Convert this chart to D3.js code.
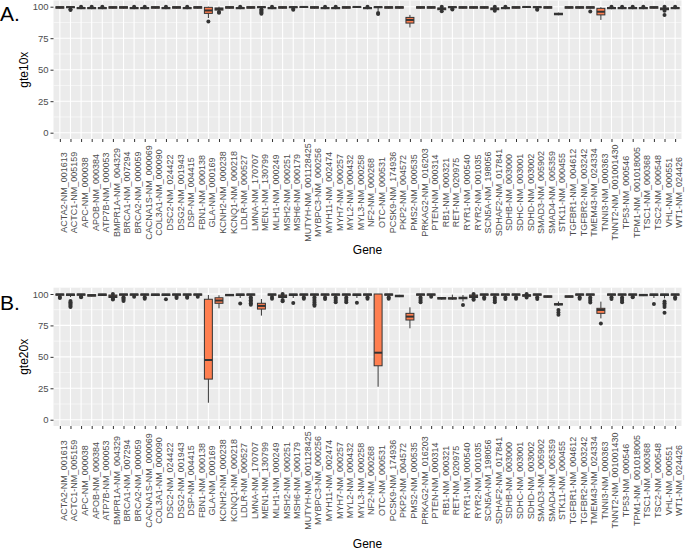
<!DOCTYPE html>
<html><head><meta charset="utf-8">
<script src="https://cdn.jsdelivr.net/npm/d3@7"></script>
<style>
body{margin:0;background:#fff}
svg{display:block}
text{font-family:"Liberation Sans",Arial,Helvetica,sans-serif}
</style>
</head><body>
<svg id="chart" width="685" height="551"></svg>
<script>
const genes = ["ACTA2-NM_001613","ACTC1-NM_005159","APC-NM_000038","APOB-NM_000384","ATP7B-NM_000053","BMPR1A-NM_004329","BRCA1-NM_007294","BRCA2-NM_000059","CACNA1S-NM_000069","COL3A1-NM_000090",
"DSC2-NM_024422","DSG2-NM_001943","DSP-NM_004415","FBN1-NM_000138","GLA-NM_000169","KCNH2-NM_000238","KCNQ1-NM_000218","LDLR-NM_000527","LMNA-NM_170707","MEN1-NM_130799",
"MLH1-NM_000249","MSH2-NM_000251","MSH6-NM_000179","MUTYH-NM_001128425","MYBPC3-NM_000256","MYH11-NM_002474","MYH7-NM_000257","MYL2-NM_000432","MYL3-NM_000258","NF2-NM_000268",
"OTC-NM_000531","PCSK9-NM_174936","PKP2-NM_004572","PMS2-NM_000535","PRKAG2-NM_016203","PTEN-NM_000314","RB1-NM_000321","RET-NM_020975","RYR1-NM_000540","RYR2-NM_001035",
"SCN5A-NM_198056","SDHAF2-NM_017841","SDHB-NM_003000","SDHC-NM_003001","SDHD-NM_003002","SMAD3-NM_005902","SMAD4-NM_005359","STK11-NM_000455","TGFBR1-NM_004612","TGFBR2-NM_003242",
"TMEM43-NM_024334","TNNI3-NM_000363","TNNT2-NM_001001430","TP53-NM_000546","TPM1-NM_001018005","TSC1-NM_000368","TSC2-NM_000548","VHL-NM_000551","WT1-NM_024426"];

const yTicks = [0, 25, 50, 75, 100];
const yMinor = [12.5, 37.5, 62.5, 87.5];

// Panel A: gte10x box statistics
const a_q1 = [98.8,99.2,98.4,98.4,98.4,98.8,98.8,98.4,98.4,98.8, 98.4,98.8,98.4,98.8,94.7,97.3,98.8,98.4,98.8,99.2, 98.4,98.8,99.2,99.4,98.8,98.4,98.4,98.8,99.4,98.4, 99.2,98.8,98.8,87.0,98.8,98.8,97.6,99.2,98.8,98.8, 98.8,97.6,98.4,98.8,99.4,99.2,98.8,93.6,98.8,98.8, 98.8,93.5,98.4,98.4,98.4,98.4,98.8,97.6,98.4];
const a_med = [99.5,99.7,99.0,99.0,99.0,99.5,99.5,99.0,99.0,99.5, 99.0,99.5,99.0,99.5,97.0,98.2,99.5,99.0,99.5,99.7, 99.0,99.5,99.7,99.8,99.5,99.0,99.0,99.5,99.8,99.0, 99.7,99.5,99.5,89.5,99.5,99.5,98.3,99.7,99.5,99.5, 99.5,98.3,99.0,99.5,99.8,99.7,99.5,94.2,99.5,99.5, 99.5,96.0,99.0,99.0,99.0,99.0,99.5,98.3,99.0];
const a_q3 = [100,100,99.4,99.4,99.4,100,100,99.4,99.4,100, 99.4,100,99.4,100,99.5,99.0,100,99.4,100,100, 99.4,100,100,100,100,99.4,99.4,100,100,99.4, 100,100,100,91.5,100,100,99.0,100,100,100, 100,99.0,99.4,100,100,100,100,94.8,100,100, 100,98.7,99.4,99.4,99.4,99.4,100,99.0,99.4];
const a_lo = [98.5,98.6,98.0,98.0,98.0,98.5,98.5,98.0,98.0,98.5, 98.0,98.5,98.0,98.5,91.0,96.5,98.5,98.0,98.5,98.6, 98.0,98.5,98.6,99.2,98.5,98.0,98.0,98.5,99.2,98.0, 96.5,98.5,98.5,83.5,98.5,98.5,97.2,98.6,98.5,98.5, 98.5,97.2,98.0,98.5,99.2,98.6,98.5,93.2,98.5,98.5, 98.5,89.5,98.0,98.0,98.0,98.0,98.5,97.2,98.0];
const a_hi = [100,100,99.8,99.8,99.8,100,100,99.8,99.8,100, 99.8,100,99.8,100,100,100,100,99.8,100,100, 99.8,100,100,100,100,99.8,99.8,100,100,99.8, 100,100,100,93.5,100,100,99.6,100,100,100, 100,99.6,99.8,100,100,100,100,95.3,100,100, 100,99.6,99.8,99.8,99.8,99.8,100,99.6,99.8];
const a_out = [[],[98,97.3],[100],[100],[100],[],[],[100],[100],[],
 [100],[],[100],[],[88.2],[95.8,95.2],[],[100],[],[98,97,96,95.2,94.5],
 [100],[],[98.3,97.5],[],[],[100],[100],[],[],[100],
 [95,94.3],[],[],[],[],[],[100,96.3],[98.4,97.8],[],[],
 [],[100,96.8],[100],[],[],[98.2,97.6],[],[],[],[],
 [96.2],[],[100],[100],[100],[100],[],[100,96.8,93.5],[100]];

// Panel B: gte20x box statistics
const b_q1 = [99.0,98.8,99.0,98.3,98.8,97.2,99.0,99.0,99.0,98.8, 98.8,99.0,99.0,99.0,32.3,92.6,98.6,98.8,99.0,88.0, 99.0,97.2,98.8,99.0,99.0,99.0,99.0,99.0,98.8,99.0, 42.9,99.0,97.8,79.3,99.0,99.0,96.0,96.0,96.2,97.2, 99.0,99.0,99.0,99.0,98.2,99.0,97.4,91.3,97.4,99.0, 99.0,84.6,99.0,99.0,99.0,98.6,98.8,98.8,99.0];
const b_med = [99.6,99.5,99.6,98.9,99.5,98.2,99.6,99.6,99.6,99.5, 99.5,99.6,99.6,99.6,47.5,94.8,99.2,99.5,99.6,90.5, 99.6,98.2,99.5,99.6,99.6,99.6,99.6,99.6,99.5,99.6, 53.3,99.6,98.4,82.0,99.6,99.6,96.6,96.5,96.8,98.2, 99.6,99.6,99.6,99.6,98.8,99.6,98.0,91.8,98.0,99.6, 99.6,87.3,99.6,99.6,99.6,99.2,99.5,99.5,99.6];
const b_q3 = [100,100,100,99.5,100,99.2,100,100,100,100, 100,100,100,100,95.8,97.0,99.7,100,100,92.6, 100,99.2,100,100,100,100,100,100,100,100, 100,100,99.0,84.6,100,100,97.2,97.0,97.4,99.2, 100,100,100,100,99.4,100,98.5,92.3,98.5,100, 100,88.6,100,100,100,99.7,100,100,100];
const b_lo = [98.2,97.5,98.2,98.0,98.5,96.6,98.2,98.2,98.2,98.5, 98.5,98.2,98.2,98.2,13.5,88.6,98.3,96.8,98.2,82.8, 98.2,96.6,96.8,98.2,98.2,98.2,98.2,98.2,96.8,98.2, 26.2,98.2,97.5,72.7,98.2,98.2,95.6,95.5,94.0,96.6, 98.2,98.2,98.2,98.2,97.8,98.2,97.1,90.5,97.1,98.2, 98.2,80.6,98.2,98.2,98.2,98.3,96.8,96.5,98.2];
const b_hi = [100,100,100,99.8,100,100,100,100,100,100, 100,100,100,100,99.2,99.0,100,100,100,96.0, 100,100,100,100,100,100,100,100,100,100, 100,100,99.3,89.4,100,100,97.6,99.5,99.2,100, 100,100,100,100,100,100,98.8,94.0,98.8,100, 100,93.9,100,100,100,100,100,100,100];
const b_out = [[97.6,96.8],[94.5,93.5,92.5,91.5,90.5,89.6],[97.9,97.4],[],[],[100,96.2,95.6],[97.5,96.5,95.5,94.5],[97.9],[97.5,96.3],[],
 [95.8],[97.8,96.8],[97.9,97],[97.9],[],[],[],[92.5],[97.5,96.3,95,93.8,92.6,91.4],[],
 [97.6,96.3],[100,95.2,94.2],[92.8],[97.5,96.2],[97.5,96,94.6,93.2,91.8,90.6],[97.3,96],[97.3,96,94.7,93.4],[97.3,96,94.7,93.4],[93],[97.5,96.2],
 [],[97.5,96.2],[],[],[97.3,96,94.7,93.4],[97.9],[],[],[91.3],[100,96,95.4],
 [97.5,96.3],[97.3,96,94.7,93.4],[97.3,96],[97.5,96.3],[100,97.2],[97.5,96.1],[],[87.2,85.2,83.5],[],[97.5,96.3],
 [97.3,96,94.6,93.3],[76.6],[97.5,96],[97.3,96,94.7,93.4],[97.9,97.4],[],[92],[94,92.6,91.2,89.6,85],[97.5,96.3]];

const svg = d3.select("#chart");
const PANEL_LEFT = 53.5, PANEL_RIGHT = 681.5;
const FILL = "#FF7F50", INK = "#333333";

function drawPanel(cfg) {
  const x = d3.scalePoint().domain(genes).range([PANEL_LEFT, PANEL_RIGHT]).padding(0.6);
  const y = d3.scaleLinear().domain([-5, 105]).range([cfg.bottom, cfg.top]);
  const g = svg.append("g");
  const boxW = x.step() * 0.75;

  g.append("rect").attr("x", PANEL_LEFT).attr("y", cfg.top)
    .attr("width", PANEL_RIGHT - PANEL_LEFT).attr("height", cfg.bottom - cfg.top)
    .attr("fill", "#EBEBEB");

  g.selectAll(".minor").data(yMinor).join("line")
    .attr("x1", PANEL_LEFT).attr("x2", PANEL_RIGHT)
    .attr("y1", d => y(d)).attr("y2", d => y(d))
    .attr("stroke", "#fff").attr("stroke-width", 0.55);
  g.selectAll(".major").data(yTicks).join("line")
    .attr("x1", PANEL_LEFT).attr("x2", PANEL_RIGHT)
    .attr("y1", d => y(d)).attr("y2", d => y(d))
    .attr("stroke", "#fff").attr("stroke-width", 1.1);
  g.selectAll(".vgrid").data(genes).join("line")
    .attr("x1", d => x(d)).attr("x2", d => x(d))
    .attr("y1", cfg.top).attr("y2", cfg.bottom)
    .attr("stroke", "#fff").attr("stroke-width", 1.1);

  // axes
  const ya = g.append("g").attr("transform", `translate(${PANEL_LEFT},0)`)
    .call(d3.axisLeft(y).tickValues(yTicks).tickSize(3).tickPadding(2));
  ya.select(".domain").remove();
  ya.selectAll("line").attr("stroke", INK);
  ya.selectAll("text").attr("fill", "#4D4D4D").style("font-size", "9.5px")
    .style("font-family", '"Liberation Sans",Arial,sans-serif');

  const xa = g.append("g").attr("transform", `translate(0,${cfg.bottom})`)
    .call(d3.axisBottom(x).tickSize(3));
  xa.select(".domain").remove();
  xa.selectAll("line").attr("stroke", INK);
  xa.selectAll("text").attr("fill", "#4D4D4D").style("font-size", "9px")
    .style("font-family", '"Liberation Sans",Arial,sans-serif')
    .attr("text-anchor", "middle")
    .attr("x", 0).attr("y", 0)
    .attr("dy", "0.72em")
    .attr("transform", `translate(0,${cfg.labelOffset}) rotate(-90)`);

  // boxplots
  const rows = genes.map((gname, i) => ({
    gname, q1: cfg.q1[i], med: cfg.med[i], q3: cfg.q3[i], lo: cfg.lo[i], hi: cfg.hi[i], out: cfg.out[i]
  }));
  const bx = g.append("g");
  bx.selectAll(".wlo").data(rows).join("line")
    .attr("x1", d => x(d.gname)).attr("x2", d => x(d.gname))
    .attr("y1", d => y(d.lo)).attr("y2", d => y(d.q1))
    .attr("stroke", INK).attr("stroke-width", 1);
  bx.selectAll(".whi").data(rows).join("line")
    .attr("x1", d => x(d.gname)).attr("x2", d => x(d.gname))
    .attr("y1", d => y(d.hi)).attr("y2", d => y(d.q3))
    .attr("stroke", INK).attr("stroke-width", 1);
  bx.selectAll(".box").data(rows).join("rect")
    .attr("x", d => x(d.gname) - boxW / 2).attr("width", boxW)
    .attr("y", d => y(d.q3)).attr("height", d => Math.max(0.01, y(d.q1) - y(d.q3)))
    .attr("fill", FILL).attr("stroke", INK).attr("stroke-width", 1);
  bx.selectAll(".med").data(rows).join("line")
    .attr("x1", d => x(d.gname) - boxW / 2).attr("x2", d => x(d.gname) + boxW / 2)
    .attr("y1", d => y(d.med)).attr("y2", d => y(d.med))
    .attr("stroke", INK).attr("stroke-width", 2);
  const pts = rows.flatMap(d => d.out.map(v => ({ gname: d.gname, v })));
  bx.selectAll(".out").data(pts).join("circle")
    .attr("cx", d => x(d.gname)).attr("cy", d => y(d.v)).attr("r", 2)
    .attr("fill", INK);

  // titles
  svg.append("text").attr("transform", `translate(28,${(cfg.top + cfg.bottom) / 2}) rotate(-90)`)
    .attr("text-anchor", "middle").style("font-size", "12px").attr("fill", "#000")
    .text(cfg.ylab);
  svg.append("text").attr("x", (PANEL_LEFT + PANEL_RIGHT) / 2).attr("y", cfg.titleY)
    .attr("text-anchor", "middle").style("font-size", "12px").attr("fill", "#000")
    .text("Gene");
  svg.append("text").attr("x", 0).attr("y", cfg.tagY)
    .style("font-size", "21px").attr("fill", "#000").text(cfg.tag);
}

drawPanel({ top: 0.4, bottom: 139, tag: "A.", tagY: 20.7, ylab: "gte10x", titleY: 254, labelOffset: 53.5,
  q1: a_q1, med: a_med, q3: a_q3, lo: a_lo, hi: a_hi, out: a_out });
drawPanel({ top: 287.7, bottom: 426, tag: "B.", tagY: 310, ylab: "gte20x", titleY: 547.5, labelOffset: 54.5,
  q1: b_q1, med: b_med, q3: b_q3, lo: b_lo, hi: b_hi, out: b_out });
</script>
</body></html>
